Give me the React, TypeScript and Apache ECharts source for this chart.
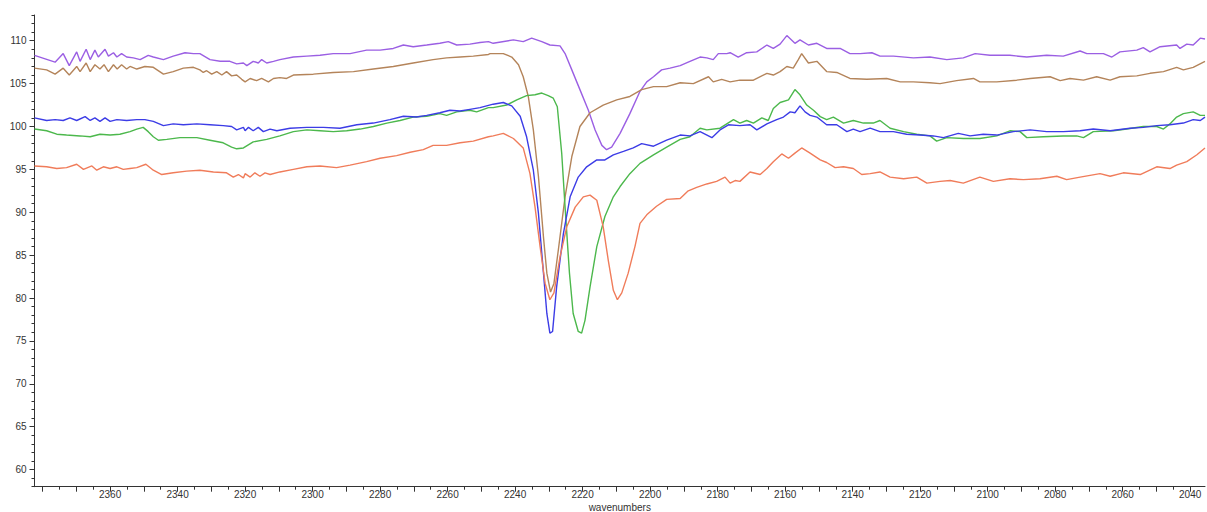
import React, { useEffect, useRef } from "react";
import * as echarts from "echarts";

// wavenumber axis range (reversed) and transmittance range
const X_MIN = 2035.6;
const X_MAX = 2382.4;
const Y_MIN = 58;
const Y_MAX = 113;

const xTickValues = [2040, 2050, 2060, 2070, 2080, 2090, 2100, 2110, 2120, 2130, 2140, 2150, 2160, 2170, 2180, 2190, 2200, 2210, 2220, 2230, 2240, 2250, 2260, 2270, 2280, 2290, 2300, 2310, 2320, 2330, 2340, 2350, 2360, 2370, 2380];
const xLabelValues = [2040, 2060, 2080, 2100, 2120, 2140, 2160, 2180, 2200, 2220, 2240, 2260, 2280, 2300, 2320, 2340, 2360];
const yLabelValues = [60, 65, 70, 75, 80, 85, 90, 95, 100, 105, 110];

const purple: number[][] = [[2382.4,108.3],[2376.3,107.5],[2373.9,108.5],[2372.1,107.1],[2369.9,108.7],[2368.9,107.6],[2367.1,109.0],[2365.9,107.8],[2364.5,108.9],[2363.5,108.1],[2361.5,109.0],[2360.5,108.2],[2359.0,108.6],[2358.0,108.1],[2356.6,108.5],[2355.1,108.1],[2353.1,108.0],[2351.1,107.8],[2348.7,108.3],[2347.2,108.1],[2344.2,107.8],[2341.3,108.2],[2337.8,108.6],[2335.3,108.5],[2333.4,108.5],[2330.4,107.8],[2327.4,107.6],[2324.5,107.6],[2322.5,107.3],[2320.5,107.4],[2319.5,107.1],[2317.6,107.6],[2316.1,107.4],[2315.1,107.8],[2313.6,107.4],[2311.6,107.6],[2309.7,107.8],[2305.7,108.1],[2301.7,108.2],[2297.8,108.3],[2293.9,108.5],[2288.9,108.5],[2284.0,108.9],[2280.0,108.9],[2276.1,109.1],[2273.1,109.5],[2270.2,109.3],[2266.2,109.5],[2262.3,109.7],[2259.8,109.9],[2257.3,109.5],[2253.4,109.6],[2250.4,109.8],[2247.9,109.9],[2246.5,109.7],[2240.5,110.1],[2237.6,109.9],[2235.1,110.3],[2232.1,109.9],[2229.7,109.5],[2226.7,109.4],[2225.2,108.5],[2223.2,106.6],[2220.8,104.3],[2218.3,101.9],[2216.3,99.6],[2214.3,97.8],[2212.9,97.3],[2211.4,97.6],[2208.9,99.2],[2206.0,101.5],[2203.0,104.1],[2201.0,105.2],[2199.0,105.8],[2196.6,106.6],[2194.1,106.8],[2191.1,107.1],[2188.2,107.6],[2185.2,108.1],[2183.2,108.0],[2181.3,107.8],[2179.8,108.5],[2177.3,108.5],[2176.3,108.6],[2173.9,108.1],[2171.4,108.6],[2168.4,108.7],[2165.4,109.5],[2163.5,109.1],[2161.5,109.6],[2159.5,110.6],[2157.1,109.7],[2155.6,110.1],[2153.1,109.5],[2150.6,109.7],[2147.7,109.1],[2143.7,109.1],[2140.8,108.5],[2137.8,108.5],[2134.3,108.6],[2131.9,108.2],[2127.9,108.2],[2122.0,108.0],[2117.1,108.1],[2112.1,107.8],[2107.2,108.0],[2103.7,108.5],[2099.3,108.3],[2093.4,108.3],[2088.4,108.1],[2082.5,108.3],[2077.6,108.2],[2072.6,108.8],[2070.6,108.5],[2065.7,108.5],[2063.2,108.1],[2060.8,108.7],[2055.8,108.9],[2053.9,109.2],[2051.9,108.7],[2048.9,109.3],[2044.0,109.5],[2043.0,109.1],[2041.0,109.6],[2039.1,109.5],[2037.0,110.3],[2035.6,110.2]];

const brown: number[][] = [[2382.4,106.8],[2378.8,106.6],[2376.3,106.1],[2373.9,106.8],[2372.1,106.0],[2369.9,107.0],[2368.9,106.4],[2367.1,107.4],[2365.9,106.4],[2364.5,107.2],[2363.0,106.7],[2361.8,107.2],[2360.5,106.4],[2359.0,107.2],[2357.9,106.7],[2356.6,107.2],[2355.1,106.7],[2354.1,107.0],[2352.1,106.7],[2349.7,107.0],[2347.2,106.9],[2344.2,106.1],[2341.3,106.4],[2338.3,106.8],[2335.3,106.9],[2333.4,106.6],[2332.4,106.3],[2331.4,106.5],[2329.9,106.1],[2328.4,106.4],[2326.9,106.0],[2325.5,106.4],[2324.0,105.9],[2322.5,106.0],[2321.0,105.5],[2320.0,105.2],[2318.5,105.6],[2316.6,105.35],[2315.1,105.6],[2313.1,105.2],[2311.6,105.6],[2309.7,105.7],[2307.7,105.6],[2305.7,106.0],[2299.8,106.1],[2293.9,106.3],[2287.9,106.4],[2282.0,106.7],[2276.1,107.0],[2270.2,107.4],[2264.3,107.8],[2260.3,108.0],[2256.3,108.1],[2252.4,108.2],[2247.9,108.4],[2247.4,108.5],[2243.5,108.5],[2241.0,108.1],[2239.0,107.2],[2237.6,105.8],[2236.1,103.5],[2234.6,99.6],[2233.1,94.2],[2231.6,87.1],[2230.6,82.9],[2229.5,80.7],[2228.5,81.7],[2227.2,85.6],[2225.2,91.8],[2223.2,96.5],[2220.8,100.0],[2217.8,101.6],[2213.9,102.5],[2209.9,103.1],[2206.0,103.5],[2202.5,104.3],[2199.0,104.65],[2195.1,104.65],[2191.1,105.1],[2187.2,105.0],[2182.7,105.8],[2181.3,105.2],[2178.8,105.5],[2176.3,105.2],[2173.4,105.4],[2169.4,105.4],[2165.4,106.2],[2163.5,106.0],[2161.5,106.4],[2159.5,107.0],[2157.6,106.8],[2156.1,107.8],[2155.1,108.5],[2153.1,107.4],[2150.6,107.6],[2147.7,106.4],[2144.7,106.3],[2140.8,105.6],[2135.8,105.5],[2129.9,105.6],[2125.9,105.2],[2122.0,105.2],[2117.1,105.1],[2114.1,105.0],[2109.2,105.35],[2104.2,105.6],[2102.3,105.2],[2097.3,105.2],[2091.4,105.4],[2087.4,105.6],[2081.5,105.8],[2078.5,105.35],[2075.6,105.6],[2071.6,105.4],[2067.7,105.8],[2063.7,105.4],[2060.8,105.8],[2055.8,105.9],[2051.9,106.2],[2047.9,106.4],[2044.0,106.9],[2042.0,106.6],[2039.1,106.9],[2035.6,107.6]];

const blue: number[][] = [[2382.4,101.0],[2378.8,100.7],[2376.3,100.8],[2373.9,100.7],[2371.9,101.0],[2369.9,100.7],[2367.4,101.15],[2365.9,100.7],[2364.5,101.0],[2363.0,100.6],[2361.5,101.0],[2360.0,100.6],[2358.0,100.8],[2355.1,100.7],[2352.1,100.8],[2349.7,100.8],[2347.2,100.6],[2344.2,100.1],[2341.3,100.3],[2338.3,100.2],[2334.3,100.3],[2330.4,100.2],[2326.5,100.1],[2324.0,100.0],[2322.5,99.6],[2320.5,99.9],[2320.0,99.5],[2319.0,99.9],[2317.6,99.5],[2316.1,99.9],[2314.6,99.4],[2312.6,99.7],[2310.6,99.5],[2306.7,99.8],[2301.7,99.9],[2296.8,99.9],[2291.9,99.8],[2286.9,100.2],[2282.0,100.4],[2277.1,100.8],[2273.1,101.2],[2269.2,101.1],[2266.2,101.3],[2262.3,101.6],[2259.3,101.9],[2256.3,101.8],[2253.4,102.0],[2250.4,102.2],[2246.5,102.6],[2243.5,102.8],[2241.0,102.4],[2238.5,101.2],[2236.6,98.8],[2234.6,94.9],[2233.1,89.9],[2231.6,82.9],[2230.6,78.2],[2229.7,75.9],[2228.9,76.1],[2227.7,81.3],[2225.7,87.5],[2223.7,91.8],[2221.3,94.1],[2218.8,95.3],[2215.8,96.1],[2213.4,96.1],[2210.9,96.7],[2207.9,97.1],[2205.0,97.5],[2202.5,98.0],[2199.0,97.7],[2195.1,98.4],[2191.1,99.0],[2188.2,98.9],[2185.2,99.4],[2181.7,98.7],[2179.3,99.6],[2176.8,100.2],[2173.4,100.1],[2170.4,100.2],[2168.4,99.6],[2165.4,100.3],[2162.5,100.8],[2160.5,101.1],[2158.5,101.7],[2157.1,101.6],[2155.6,102.4],[2154.1,101.7],[2152.6,101.3],[2150.6,101.1],[2147.7,100.2],[2144.7,100.2],[2141.7,99.4],[2139.8,99.7],[2137.8,99.4],[2134.8,99.8],[2131.9,99.4],[2127.9,99.4],[2124.0,99.1],[2120.0,99.0],[2116.1,98.9],[2113.1,98.7],[2108.7,99.2],[2105.2,98.9],[2101.3,99.1],[2097.3,99.0],[2092.4,99.4],[2087.4,99.6],[2082.5,99.4],[2077.6,99.4],[2072.6,99.5],[2068.7,99.7],[2063.7,99.5],[2057.8,99.8],[2053.9,99.9],[2049.9,100.1],[2046.0,100.2],[2042.0,100.4],[2039.1,100.8],[2037.0,100.7],[2035.6,101.1]];

const green: number[][] = [[2382.4,99.7],[2378.8,99.5],[2375.8,99.1],[2372.9,99.0],[2368.9,98.9],[2365.9,98.8],[2363.0,99.1],[2360.0,99.0],[2357.1,99.1],[2354.1,99.4],[2352.1,99.7],[2350.2,99.9],[2348.7,99.4],[2347.2,98.8],[2345.7,98.4],[2343.2,98.5],[2339.3,98.7],[2334.3,98.7],[2330.4,98.4],[2326.5,98.1],[2324.0,97.6],[2322.5,97.4],[2320.5,97.5],[2317.6,98.2],[2313.6,98.5],[2309.7,98.9],[2305.7,99.4],[2301.7,99.6],[2297.8,99.5],[2293.9,99.4],[2289.9,99.5],[2285.9,99.7],[2282.0,100.0],[2278.0,100.4],[2274.1,100.7],[2270.2,101.1],[2266.2,101.2],[2262.3,101.5],[2260.3,101.3],[2257.3,101.7],[2253.4,101.9],[2251.4,101.7],[2247.9,102.2],[2246.5,102.2],[2242.5,102.5],[2239.5,103.1],[2236.6,103.6],[2234.1,103.7],[2232.1,103.9],[2230.2,103.6],[2228.7,103.3],[2227.5,102.3],[2226.2,96.9],[2225.2,90.6],[2223.9,82.9],[2222.8,78.2],[2221.3,76.1],[2220.3,75.9],[2219.3,77.4],[2217.8,81.3],[2215.8,86.0],[2213.4,89.5],[2210.9,91.8],[2208.9,93.0],[2206.0,94.5],[2203.0,95.7],[2199.0,96.7],[2195.1,97.6],[2191.1,98.5],[2188.2,98.8],[2185.2,99.8],[2183.2,99.6],[2179.3,99.8],[2175.3,100.8],[2173.4,100.4],[2171.4,100.7],[2169.4,100.4],[2166.9,101.0],[2165.0,100.7],[2163.5,102.1],[2161.5,102.8],[2159.0,103.1],[2157.1,104.3],[2155.6,103.7],[2153.6,102.5],[2151.6,101.9],[2149.6,101.15],[2147.7,100.8],[2145.7,101.1],[2142.7,100.4],[2139.8,100.7],[2136.8,100.4],[2133.9,100.4],[2131.9,100.7],[2128.9,99.8],[2124.9,99.4],[2121.0,99.1],[2117.1,98.9],[2115.1,98.3],[2112.1,98.7],[2107.2,98.6],[2102.3,98.6],[2097.3,98.9],[2093.4,99.5],[2090.4,99.4],[2088.4,98.7],[2083.5,98.8],[2077.6,98.9],[2073.6,98.9],[2071.6,98.7],[2068.7,99.4],[2062.7,99.5],[2058.8,99.7],[2053.9,100.0],[2049.9,100.0],[2047.9,99.7],[2046.0,100.3],[2044.0,101.1],[2042.0,101.5],[2039.1,101.7],[2037.0,101.3],[2035.6,101.3]];

const orange: number[][] = [[2382.4,95.4],[2378.8,95.3],[2375.8,95.1],[2372.9,95.2],[2369.9,95.6],[2367.9,95.0],[2365.4,95.4],[2363.95,94.9],[2362.0,95.3],[2360.0,95.1],[2358.0,95.3],[2356.1,95.0],[2354.1,95.1],[2352.1,95.2],[2349.4,95.6],[2347.2,94.9],[2344.7,94.4],[2341.3,94.6],[2337.3,94.8],[2333.4,94.9],[2329.4,94.7],[2325.5,94.6],[2323.5,94.1],[2322.0,94.4],[2320.5,94.0],[2320.0,94.5],[2318.5,94.1],[2317.1,94.6],[2315.6,94.2],[2314.1,94.6],[2312.6,94.4],[2309.7,94.7],[2305.7,95.0],[2301.7,95.3],[2297.8,95.4],[2292.9,95.2],[2288.9,95.5],[2284.0,95.9],[2280.0,96.3],[2275.1,96.6],[2271.1,97.0],[2267.2,97.3],[2264.3,97.8],[2260.3,97.8],[2256.3,98.1],[2252.4,98.3],[2247.9,98.8],[2246.5,98.9],[2243.5,99.2],[2240.5,98.6],[2237.6,97.5],[2235.6,94.5],[2234.1,90.6],[2232.6,86.0],[2231.1,81.7],[2229.7,79.8],[2228.5,80.6],[2226.7,84.8],[2224.7,88.3],[2222.2,90.6],[2219.8,91.8],[2217.8,92.0],[2215.8,91.4],[2213.9,88.3],[2212.4,84.4],[2210.9,80.9],[2209.7,79.8],[2208.4,80.6],[2206.5,82.9],[2204.5,86.0],[2203.0,88.7],[2201.0,89.7],[2198.1,90.7],[2195.1,91.5],[2191.1,91.6],[2188.7,92.5],[2186.2,92.9],[2183.2,93.3],[2180.3,93.6],[2177.8,94.1],[2176.3,93.4],[2174.8,93.7],[2173.4,93.6],[2170.4,94.7],[2167.4,94.4],[2165.4,95.1],[2163.5,95.9],[2161.0,96.8],[2159.0,96.3],[2157.1,96.9],[2155.1,97.5],[2152.6,96.9],[2149.6,96.1],[2147.7,95.8],[2145.2,95.2],[2142.7,95.3],[2139.8,95.1],[2137.3,94.4],[2134.8,94.5],[2131.9,94.7],[2128.9,94.1],[2124.9,93.9],[2121.0,94.1],[2118.0,93.4],[2114.1,93.6],[2111.1,93.7],[2107.2,93.4],[2102.3,94.1],[2098.3,93.6],[2093.4,93.9],[2089.4,93.8],[2084.5,93.9],[2079.5,94.2],[2076.6,93.8],[2072.6,94.1],[2066.7,94.5],[2063.7,94.2],[2059.8,94.6],[2054.8,94.4],[2049.9,95.3],[2046.0,95.1],[2044.0,95.5],[2041.0,95.9],[2038.0,96.7],[2035.6,97.5]];

const seriesList = [
  { name: "purple", data: purple, color: "#9b5fe3" },
  { name: "brown", data: brown, color: "#b4845a" },
  { name: "green", data: green, color: "#4cb84c" },
  { name: "blue", data: blue, color: "#3c3ce6" },
  { name: "orange", data: orange, color: "#f07c5a" },
];

export default function App() {
  const ref = useRef<HTMLDivElement>(null);
  useEffect(() => {
    if (!ref.current) return;
    const chart = echarts.init(ref.current, undefined, { renderer: "svg" });
    const xMinor: number[] = xTickValues.slice(0, -1).map((v) => v + 5);
    const yMinor: number[] = [];
    for (let v = Y_MIN; v <= Y_MAX; v++) if (v % 5 !== 0) yMinor.push(v);
    const axisColor = "#333";
    const textStyle = { color: "#333", fontSize: 10, fontFamily: "Liberation Sans, Arial, sans-serif" };
    chart.setOption({
      animation: false,
      backgroundColor: "#fff",
      grid: { left: 34.5, right: 2, top: 15, bottom: 25.3, containLabel: false, outerBoundsMode: "none" },
      xAxis: [
        {
          type: "value",
          min: X_MIN,
          max: X_MAX,
          inverse: true,
          name: "wavenumbers",
          nameLocation: "middle",
          nameGap: 15,
          nameMoveOverlap: false,
          nameTextStyle: { ...textStyle, fontSize: 10, lineHeight: 11 },
          axisLine: { show: true, lineStyle: { color: axisColor, width: 1 } },
          axisTick: { show: true, length: 5, customValues: xTickValues, lineStyle: { color: axisColor } },
          axisLabel: { ...textStyle, margin: 3, customValues: xLabelValues, formatter: (v: number) => String(v) },
          splitLine: { show: false },
        },
        {
          type: "value",
          min: X_MIN,
          max: X_MAX,
          inverse: true,
          position: "bottom",
          axisLine: { show: false },
          axisTick: { show: true, length: 3, customValues: xMinor, lineStyle: { color: axisColor } },
          axisLabel: { show: false },
          splitLine: { show: false },
        },
      ],
      yAxis: [
        {
          type: "value",
          min: Y_MIN,
          max: Y_MAX,
          axisLine: { show: true, lineStyle: { color: axisColor, width: 1 } },
          axisTick: { show: true, length: 5, customValues: yLabelValues, lineStyle: { color: axisColor } },
          axisLabel: { ...textStyle, margin: 8, customValues: yLabelValues },
          splitLine: { show: false },
        },
        {
          type: "value",
          min: Y_MIN,
          max: Y_MAX,
          position: "left",
          axisLine: { show: false },
          axisTick: { show: true, length: 3, customValues: yMinor, lineStyle: { color: axisColor } },
          axisLabel: { show: false },
          splitLine: { show: false },
        },
      ],
      series: seriesList.map((s) => ({
        type: "line",
        name: s.name,
        data: s.data,
        xAxisIndex: 0,
        yAxisIndex: 0,
        showSymbol: false,
        symbol: "none",
        lineStyle: { color: s.color, width: 1.4 },
        itemStyle: { color: s.color },
      })),
    });
    return () => chart.dispose();
  }, []);
  return (
    <div
      ref={ref}
      style={{ position: "fixed", left: 0, top: 0, width: 1207, height: 512, background: "#fff" }}
    />
  );
}
